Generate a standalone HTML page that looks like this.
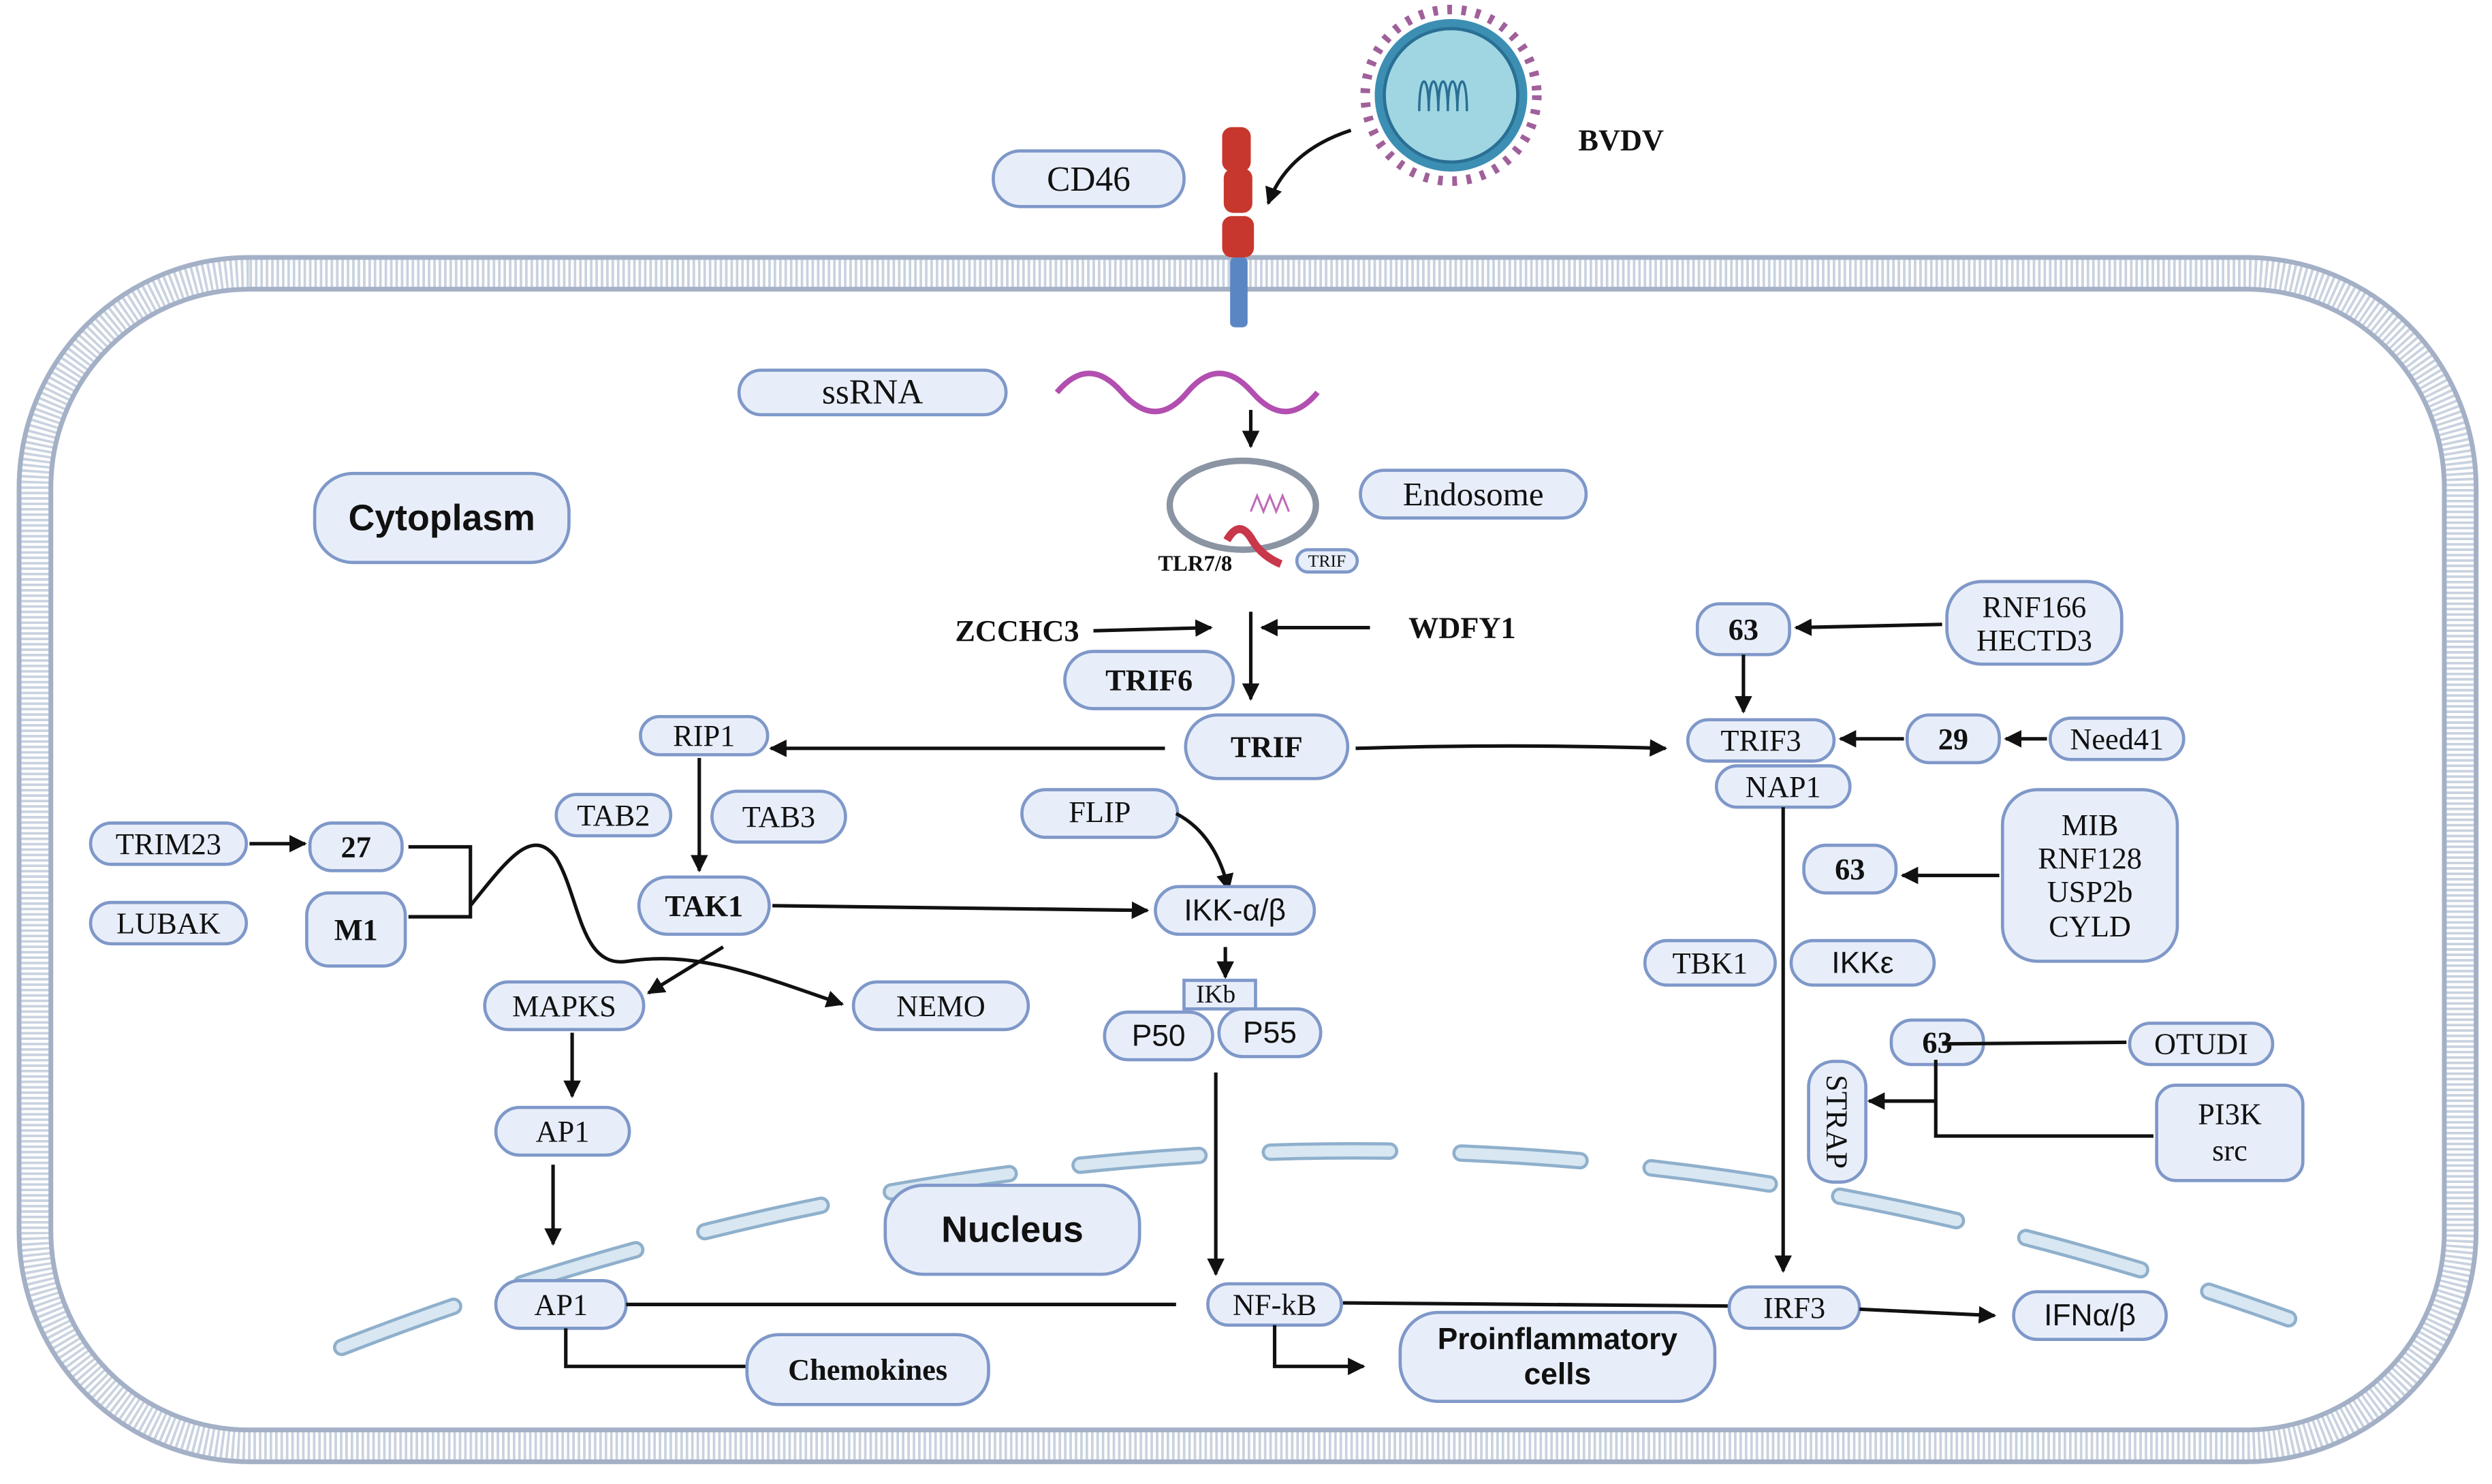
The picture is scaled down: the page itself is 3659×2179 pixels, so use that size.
<!DOCTYPE html>
<html><head><meta charset="utf-8">
<style>
html,body{margin:0;padding:0;background:#fff;}
svg{display:block;}
.n{fill:#e8eef9;stroke:#7f98c9;stroke-width:2;}
.t{font-family:"Liberation Serif",serif;font-size:19px;fill:#111;text-anchor:middle;dominant-baseline:central;}
.b{font-weight:bold;}
.s{font-family:"Liberation Sans",sans-serif;}
.l{stroke:#111;stroke-width:2.2;fill:none;}
.a{stroke:#111;stroke-width:2.2;fill:none;marker-end:url(#ah);}
</style></head>
<body>
<svg width="3659" height="2179" viewBox="0 0 1568 934" preserveAspectRatio="none" xmlns="http://www.w3.org/2000/svg">
<defs>
<marker id="ah" viewBox="0 0 10 10" refX="9" refY="5" markerWidth="5" markerHeight="5" orient="auto"><path d="M0,0 L10,5 L0,10 z" fill="#111"/></marker>
</defs>
<rect width="1568" height="934" fill="#fff"/>
<!-- membrane -->
<rect x="22" y="172" width="1526" height="738" rx="135" fill="none" stroke="#c9d2df" stroke-width="20" stroke-dasharray="1.6 1.8"/>
<rect x="12" y="162" width="1546" height="758" rx="145" fill="none" stroke="#a3b0c6" stroke-width="3"/>
<rect x="32" y="182" width="1506" height="718" rx="125" fill="none" stroke="#a3b0c6" stroke-width="3"/>
<!-- nucleus -->
<path d="M215,848 Q828,610 1440,830" fill="none" stroke="#8fb0cc" stroke-width="11" stroke-dasharray="75 45" stroke-linecap="round"/>
<path d="M215,848 Q828,610 1440,830" fill="none" stroke="#d8e7f2" stroke-width="7" stroke-dasharray="75 45" stroke-linecap="round"/>
<!-- virus -->
<circle cx="913" cy="60" r="54" fill="none" stroke="#a0609a" stroke-width="6" stroke-dasharray="3 6"/>
<circle cx="913" cy="60" r="48" fill="#3c8fb3"/>
<circle cx="913" cy="60" r="42" fill="#9fd6e2" stroke="#2a6f94" stroke-width="2"/>
<path d="M893,70 c0,-25 6,-25 6,0 c0,-25 6,-25 6,0 c0,-25 6,-25 6,0 c0,-25 6,-25 6,0 c0,-25 6,-25 6,0" fill="none" stroke="#2a6f94" stroke-width="1.5"/>
<text x="1020" y="88" class="t b">BVDV</text>
<path class="a" d="M850,82 Q810,95 798,128"/>
<!-- receptor -->
<rect x="769" y="80" width="18" height="28" rx="6" fill="#c8372d"/>
<rect x="770" y="106" width="18" height="28" rx="6" fill="#c8372d"/>
<rect x="769" y="136" width="20" height="26" rx="6" fill="#c8372d"/>
<rect x="774" y="162" width="11" height="44" rx="3" fill="#5b86c4"/>
<rect x="625" y="95" width="120" height="35" rx="17" class="n"/><text x="685" y="113" class="t" style="font-size:22px">CD46</text>
<rect x="465" y="233" width="168" height="28" rx="14" class="n"/><text x="549" y="247" class="t" style="font-size:22px">ssRNA</text>
<path d="M665,247 q20,-24 41,0 t41,0 t41,0 t41,0" fill="none" stroke="#b24fb0" stroke-width="3.5"/>
<path class="a" d="M787,258 L787,281"/>
<!-- endosome -->
<ellipse cx="782" cy="318" rx="46" ry="28" fill="#fff" stroke="#8a94a3" stroke-width="4"/>
<path d="M787,322 l4,-10 l4,10 l4,-10 l4,10 l4,-10 l4,10" fill="none" stroke="#c06ab8" stroke-width="1.3"/>
<path d="M772,340 q8,-14 16,0 q6,10 18,15" fill="none" stroke="#c8374a" stroke-width="5"/>
<text x="752" y="355" class="t b" style="font-size:14px">TLR7/8</text>
<rect x="816" y="346" width="38" height="14" rx="7" class="n"/><text x="835" y="353" class="t" style="font-size:11px">TRIF</text>
<rect x="856" y="296" width="142" height="30" rx="15" class="n"/><text x="927" y="311" class="t" style="font-size:21px">Endosome</text>
<rect x="198" y="298" width="160" height="56" rx="24" class="n"/><text x="278" y="326" class="t s b" style="font-size:23px">Cytoplasm</text>
<text x="640" y="397" class="t b">ZCCHC3</text><path class="a" d="M688,397 L762,395"/>
<text x="920" y="395" class="t b">WDFY1</text><path class="a" d="M862,395 L794,395"/>
<path class="a" d="M787,385 L787,440"/>
<rect x="670" y="410" width="106" height="36" rx="18" class="n"/><text x="723" y="428" class="t b">TRIF6</text>
<rect x="746" y="450" width="102" height="40" rx="20" class="n"/><text x="797" y="470" class="t b">TRIF</text>
<rect x="403" y="451" width="80" height="24" rx="12" class="n"/><text x="443" y="463" class="t">RIP1</text>
<path class="a" d="M733,471 L485,471"/>
<path class="a" d="M853,471 Q950,468 1048,471"/>
<!-- right -->
<rect x="1068" y="380" width="58" height="32" rx="14" class="n"/><text x="1097" y="396" class="t b">63</text>
<rect x="1225" y="366" width="110" height="52" rx="22" class="n"/><text x="1280" y="382" class="t">RNF166</text><text x="1280" y="403" class="t">HECTD3</text>
<path class="a" d="M1222,393 L1130,395"/>
<path class="a" d="M1097,412 L1097,448"/>
<rect x="1062" y="453" width="92" height="26" rx="13" class="n"/><text x="1108" y="466" class="t">TRIF3</text>
<rect x="1080" y="482" width="84" height="26" rx="13" class="n"/><text x="1122" y="495" class="t">NAP1</text>
<rect x="1200" y="450" width="58" height="30" rx="14" class="n"/><text x="1229" y="465" class="t b">29</text>
<path class="a" d="M1198,465 L1158,465"/>
<rect x="1290" y="452" width="84" height="26" rx="13" class="n"/><text x="1332" y="465" class="t">Need41</text>
<path class="a" d="M1288,465 L1262,465"/>
<rect x="1260" y="497" width="110" height="108" rx="22" class="n"/>
<text x="1315" y="519" class="t">MIB</text><text x="1315" y="540" class="t">RNF128</text><text x="1315" y="561" class="t">USP2b</text><text x="1315" y="583" class="t">CYLD</text>
<rect x="1135" y="532" width="58" height="30" rx="14" class="n"/><text x="1164" y="547" class="t b">63</text>
<path class="a" d="M1258,551 L1197,551"/>
<rect x="1035" y="592" width="82" height="28" rx="14" class="n"/><text x="1076" y="606" class="t">TBK1</text>
<rect x="1127" y="592" width="90" height="28" rx="14" class="n"/><text x="1172" y="606" class="t s">IKKε</text>
<rect x="1190" y="642" width="58" height="28" rx="13" class="n"/><text x="1219" y="656" class="t b">63</text>
<rect x="1340" y="644" width="90" height="26" rx="13" class="n"/><text x="1385" y="657" class="t">OTUDI</text>
<path class="l" d="M1338,656 L1222,657"/>
<rect x="1138" y="668" width="36" height="76" rx="16" class="n"/><text x="1156" y="706" class="t" transform="rotate(90 1156 706)">STRAP</text>
<rect x="1357" y="683" width="92" height="60" rx="12" class="n"/><text x="1403" y="701" class="t">PI3K</text><text x="1403" y="724" class="t">src</text>
<path class="l" d="M1355,715 L1218,715 L1218,667"/>
<path class="a" d="M1218,693 L1176,693"/>
<path class="a" d="M1122,508 L1122,800"/>
<!-- middle -->
<rect x="350" y="500" width="72" height="26" rx="13" class="n"/><text x="386" y="513" class="t">TAB2</text>
<rect x="448" y="498" width="84" height="32" rx="16" class="n"/><text x="490" y="514" class="t">TAB3</text>
<path class="a" d="M440,477 L440,548"/>
<rect x="402" y="552" width="82" height="36" rx="18" class="n"/><text x="443" y="570" class="t b">TAK1</text>
<path class="a" d="M486,570 L722,573"/>
<rect x="643" y="497" width="98" height="30" rx="15" class="n"/><text x="692" y="511" class="t">FLIP</text>
<path class="a" d="M740,512 Q765,525 773,560"/>
<rect x="727" y="558" width="100" height="30" rx="15" class="n"/><text x="777" y="573" class="t s">IKK-α/β</text>
<path class="a" d="M771,596 L771,615"/>
<rect x="745" y="617" width="45" height="18" class="n"/><text x="765" y="626" class="t" style="font-size:16px">IKb</text>
<rect x="695" y="637" width="68" height="30" rx="15" class="n"/><text x="729" y="652" class="t s">P50</text>
<rect x="767" y="635" width="64" height="30" rx="15" class="n"/><text x="799" y="650" class="t s">P55</text>
<path class="a" d="M765,675 L765,802"/>
<!-- left -->
<rect x="57" y="518" width="98" height="26" rx="13" class="n"/><text x="106" y="531" class="t">TRIM23</text>
<path class="a" d="M157,531 L192,531"/>
<rect x="195" y="518" width="58" height="30" rx="14" class="n"/><text x="224" y="533" class="t b">27</text>
<rect x="57" y="568" width="98" height="26" rx="13" class="n"/><text x="106" y="581" class="t">LUBAK</text>
<rect x="193" y="562" width="62" height="46" rx="14" class="n"/><text x="224" y="585" class="t b">M1</text>
<path class="l" d="M257,533 L296,533 L296,577 L257,577"/>
<path class="a" d="M296,570 C320,540 335,520 350,540 C365,565 365,610 395,605 C440,598 480,615 530,632"/>
<path class="a" d="M455,596 L408,625"/>
<rect x="305" y="618" width="100" height="30" rx="15" class="n"/><text x="355" y="633" class="t">MAPKS</text>
<rect x="537" y="618" width="110" height="30" rx="15" class="n"/><text x="592" y="633" class="t">NEMO</text>
<path class="a" d="M360,650 L360,690"/>
<rect x="312" y="697" width="84" height="30" rx="15" class="n"/><text x="354" y="712" class="t">AP1</text>
<path class="a" d="M348,733 L348,783"/>
<rect x="557" y="746" width="160" height="56" rx="24" class="n"/><text x="637" y="774" class="t s b" style="font-size:23px">Nucleus</text>
<rect x="312" y="806" width="82" height="30" rx="15" class="n"/><text x="353" y="821" class="t">AP1</text>
<path class="l" d="M394,821 L740,821"/>
<path class="l" d="M356,836 L356,860 L470,860"/>
<rect x="470" y="840" width="152" height="44" rx="20" class="n"/><text x="546" y="862" class="t b">Chemokines</text>
<rect x="760" y="808" width="84" height="26" rx="13" class="n"/><text x="802" y="821" class="t">NF-kB</text>
<path class="l" d="M845,820 L1088,822"/>
<rect x="1088" y="810" width="82" height="26" rx="13" class="n"/><text x="1129" y="823" class="t">IRF3</text>
<path class="a" d="M1170,824 L1255,828"/>
<rect x="1267" y="813" width="96" height="30" rx="15" class="n"/><text x="1315" y="828" class="t s">IFNα/β</text>
<path class="a" d="M802,834 L802,860 L858,860"/>
<rect x="881" y="826" width="198" height="56" rx="24" class="n"/>
<text x="980" y="843" class="t s b">Proinflammatory</text><text x="980" y="865" class="t s b">cells</text>
</svg>
</body></html>
